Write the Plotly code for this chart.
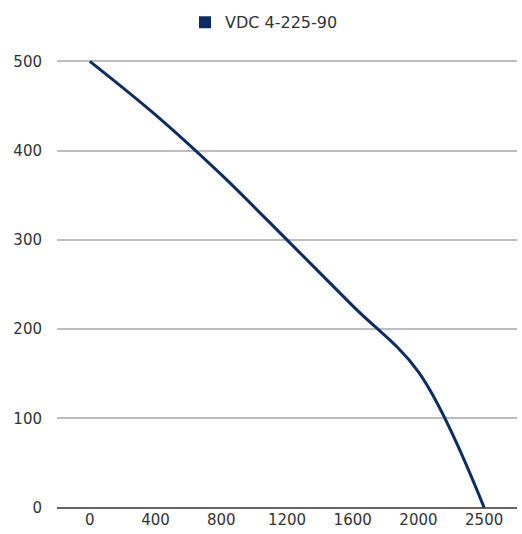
import plotly.graph_objects as go

categories = ["0", "400", "800", "1200", "1600", "2000", "2500"]
pressure = [500, 440, 373, 300, 226, 152, 0]
series_name = "VDC 4-225-90"
y_ticks = [0, 100, 200, 300, 400, 500]

navy = "#0c2c63"
fig = go.Figure()
fig.add_trace(go.Scatter(
    x=categories, y=pressure, mode="lines",
    line=dict(color=navy, width=3, shape="spline", smoothing=1.0),
    showlegend=False, hoverinfo="x+y"))
fig.add_trace(go.Scatter(
    x=[None], y=[None], mode="markers", name=series_name,
    marker=dict(symbol="square", size=14, color=navy),
    showlegend=True))

fig.update_layout(
    width=522, height=534,
    margin=dict(l=57, r=5, t=56, b=25),
    paper_bgcolor="white", plot_bgcolor="white",
    font=dict(family="DejaVu Sans, sans-serif", size=15, color="#333"),
    legend=dict(orientation="h", x=0.45, xanchor="center", y=1.084, yanchor="middle",
                font=dict(size=16, color="#333"), itemsizing="constant"),
    xaxis=dict(type="category", range=[-0.5, 6.5], showgrid=False,
               showline=False, ticks="", automargin=False,
               tickfont=dict(size=15, color="#333"), fixedrange=True),
    yaxis=dict(range=[-1.5, 501.5], tickvals=y_ticks, showgrid=True,
               gridcolor="#bdbdbd", gridwidth=1.5,
               zeroline=True, zerolinecolor="#666", zerolinewidth=2,
               ticks="", ticklabelstandoff=14, automargin=False,
               tickfont=dict(size=15, color="#333"), fixedrange=True),
)
fig.write_html("out.html", config={"displayModeBar": False},
               post_script="document.body.style.margin='0';document.body.style.overflow='hidden';")
